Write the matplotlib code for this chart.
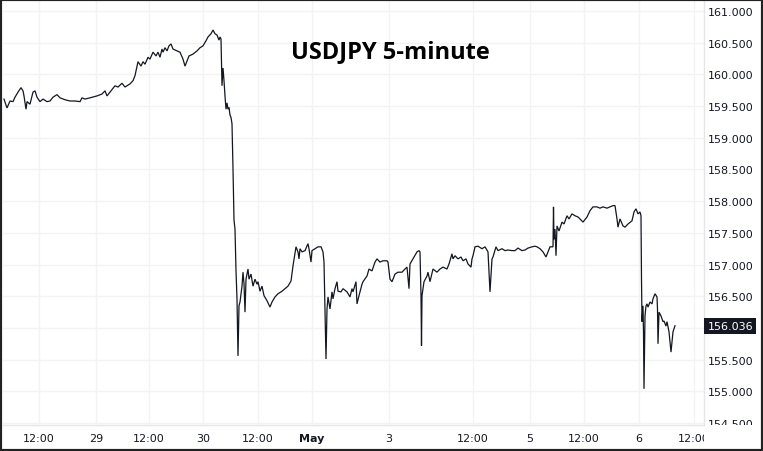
import matplotlib
matplotlib.use("Agg")
import matplotlib.pyplot as plt
from matplotlib.patches import Rectangle
from matplotlib.transforms import Bbox, TransformedBbox, blended_transform_factory

# USDJPY 5-minute, position on the compressed trading-time axis (bar index) and price
bar = [
    4, 7, 10, 13, 15, 18, 21, 23, 24, 26,
    27, 30, 33, 35, 37, 40, 43, 47, 50, 53,
    57, 60, 65, 70, 75, 80, 82, 85, 90, 97,
    102, 105, 107, 110, 115, 118, 122, 125, 128, 130,
    133, 135, 138, 141, 143, 145, 148, 150, 153, 156,
    158, 160, 162, 163, 165, 167, 169, 171, 173, 177,
    180, 183, 185, 187, 189, 193, 197, 200, 203, 206,
    208, 211, 213, 215, 217, 219, 220, 221, 222, 223,
    224, 225, 226, 227, 228, 229, 230, 231, 232, 233,
    234, 235, 236, 237, 238, 239, 240, 242, 243, 244,
    245, 246, 248, 249, 251, 253, 255, 257, 258, 260,
    262, 264, 267, 270, 272, 275, 278, 282, 285, 288,
    291, 293, 296, 298, 299, 300, 302, 305, 308, 309,
    311, 312, 315, 318, 321, 323, 324, 325, 326, 327,
    328, 330, 332, 333, 335, 337, 338, 341, 343, 347,
    350, 352, 353, 356, 357, 359, 362, 363, 367, 369,
    372, 375, 377, 380, 383, 387, 388, 390, 392, 395,
    398, 402, 405, 407, 409, 410, 413, 417, 419, 420,
    421, 421.5, 422, 424, 427, 428, 430, 433, 437, 440,
    443, 447, 449, 452, 453, 455, 458, 461, 463, 466,
    468, 471, 472, 473, 475, 478, 482, 485, 488, 490,
    492, 493, 496, 498, 502, 505, 508, 512, 515, 518,
    522, 525, 528, 532, 535, 537, 540, 543, 546, 548,
    550, 553, 553.5, 554, 555, 556, 557, 559, 562, 564,
    567, 569, 572, 575, 578, 580, 583, 587, 590, 593,
    597, 600, 603, 607, 610, 613, 615, 617, 618, 620,
    623, 625, 628, 632, 634, 636, 638, 640, 641, 641.5,
    642, 643, 643.5, 644, 645, 646, 647, 648, 650, 652,
    653, 655, 657, 657.5, 658, 659, 661, 663, 664, 666,
    667, 669, 671, 673, 674, 675,
]
price = [
    159.61, 159.47, 159.58, 159.57, 159.64, 159.72, 159.79, 159.74, 159.66, 159.45,
    159.57, 159.53, 159.72, 159.74, 159.64, 159.57, 159.61, 159.57, 159.58, 159.64,
    159.68, 159.63, 159.60, 159.58, 159.58, 159.57, 159.63, 159.61, 159.63, 159.66,
    159.69, 159.74, 159.66, 159.72, 159.82, 159.80, 159.86, 159.80, 159.83, 159.85,
    159.90, 159.98, 160.20, 160.13, 160.20, 160.16, 160.27, 160.24, 160.35, 160.29,
    160.35, 160.27, 160.40, 160.35, 160.42, 160.37, 160.45, 160.48, 160.40, 160.37,
    160.35, 160.24, 160.13, 160.21, 160.29, 160.32, 160.37, 160.42, 160.45, 160.53,
    160.59, 160.64, 160.70, 160.64, 160.62, 160.54, 160.59, 160.56, 159.82, 160.10,
    159.90, 159.66, 159.45, 159.55, 159.45, 159.48, 159.36, 159.32, 159.22, 158.51,
    157.70, 157.56, 156.90, 156.46, 155.56, 156.35, 156.41, 156.66, 156.88, 156.70,
    156.25, 156.77, 156.93, 156.77, 156.85, 156.66, 156.77, 156.69, 156.73, 156.58,
    156.66, 156.51, 156.43, 156.33, 156.41, 156.49, 156.54, 156.58, 156.62, 156.66,
    156.74, 156.98, 157.28, 157.20, 157.09, 157.25, 157.20, 157.22, 157.33, 157.25,
    157.04, 157.22, 157.25, 157.28, 157.28, 157.20, 157.04, 156.25, 155.51, 156.30,
    156.49, 156.30, 156.57, 156.46, 156.62, 156.73, 156.58, 156.57, 156.62, 156.57,
    156.49, 156.62, 156.57, 156.73, 156.38, 156.51, 156.69, 156.73, 156.82, 156.93,
    156.90, 157.04, 157.09, 157.04, 157.06, 157.06, 157.04, 156.77, 156.73, 156.85,
    156.88, 156.88, 156.93, 156.96, 156.62, 157.01, 157.09, 157.20, 157.22, 157.20,
    156.51, 155.72, 156.51, 156.73, 156.82, 156.88, 156.73, 156.93, 156.88, 156.93,
    156.96, 156.93, 157.01, 157.17, 157.09, 157.14, 157.09, 157.12, 157.06, 157.09,
    157.01, 156.96, 157.09, 157.14, 157.28, 157.29, 157.25, 157.28, 157.20, 156.57,
    157.09, 157.12, 157.28, 157.22, 157.25, 157.22, 157.23, 157.22, 157.22, 157.26,
    157.22, 157.23, 157.26, 157.28, 157.29, 157.28, 157.25, 157.20, 157.12, 157.20,
    157.28, 157.28, 157.91, 157.40, 157.56, 157.14, 157.61, 157.53, 157.67, 157.64,
    157.77, 157.72, 157.80, 157.77, 157.75, 157.72, 157.67, 157.75, 157.85, 157.91,
    157.91, 157.89, 157.91, 157.89, 157.91, 157.93, 157.93, 157.72, 157.59, 157.72,
    157.61, 157.59, 157.64, 157.69, 157.83, 157.88, 157.80, 157.83, 157.77, 156.77,
    156.10, 156.35, 155.94, 155.04, 156.19, 156.35, 156.38, 156.33, 156.41, 156.38,
    156.46, 156.54, 156.49, 156.30, 155.75, 156.25, 156.19, 156.10, 156.11, 156.03,
    156.10, 155.94, 155.62, 155.94, 155.99, 156.036,
]

time_ticks = [39, 96, 149, 203, 258, 312, 389, 473, 530, 584, 639, 694]
time_labels = ["12:00", "29", "12:00", "30", "12:00", "May", "3", "12:00", "5", "12:00", "6", "12:00"]
price_ticks = [154.5, 155.0, 155.5, 156.0, 156.5, 157.0, 157.5, 158.0, 158.5, 159.0, 159.5, 160.0, 160.5, 161.0]
price_labels = ["154.500", "155.000", "155.500", "", "156.500", "157.000", "157.500",
                "158.000", "158.500", "159.000", "159.500", "160.000", "160.500", "161.000"]
last_price = 156.036

W, H = 763, 452
fig = plt.figure(figsize=(W / 100, H / 100), dpi=100)
ax = fig.add_axes([3 / W, 26 / H, 701 / W, 424 / H])

ink = "#131722"
grid = "#f3f3f3"

ax.plot(bar, price, color=ink, lw=0.9, solid_joinstyle="miter")
ax.set_xlim(3, 704)
ax.set_ylim(154.47, 161.157)

ax.set_xticks(time_ticks)
ax.set_xticklabels(time_labels)
ax.set_yticks(price_ticks)
ax.set_yticklabels(price_labels)
ax.yaxis.tick_right()
ax.tick_params(axis="x", length=0, pad=6, labelsize=8, labelcolor=ink)
ax.tick_params(axis="y", length=0, pad=2.5, labelsize=8, labelcolor=ink)
ax.grid(True, color=grid, lw=1)
ax.set_axisbelow(True)

for side in ["top", "left"]:
    ax.spines[side].set_visible(False)
for side in ["right", "bottom"]:
    ax.spines[side].set_color("#e6e6e6")
    ax.spines[side].set_linewidth(1)

# labels that run under the other scale get cut off, like in the original
ybox = TransformedBbox(Bbox([[0, 26 / H], [1, 1]]), fig.transFigure)
for lab in ax.get_yticklabels():
    lab.set_clip_box(ybox)
    lab.set_clip_on(True)
xbox = TransformedBbox(Bbox([[0, 0], [704 / W, 1]]), fig.transFigure)
for lab in ax.get_xticklabels():
    lab.set_clip_box(xbox)
    lab.set_clip_on(True)
    if lab.get_text() == "May":
        lab.set_fontweight("bold")

# last price marker on the scale
trans = blended_transform_factory(ax.transAxes, ax.transData)
ax.annotate(f"{last_price:.3f}", xy=(1, last_price), xycoords=trans,
            xytext=(2.5, 0), textcoords="offset points", ha="left", va="center",
            fontsize=8, color="white", annotation_clip=False,
            bbox=dict(boxstyle="square,pad=0.28", fc=ink, ec="none"))

ax.text(0.552, 0.881, "USDJPY 5-minute", transform=ax.transAxes, ha="center", va="center",
        fontsize=17, fontweight="bold", family=["Open Sans", "DejaVu Sans"], color="black")

fig.patches.append(Rectangle((0, 0), 1, 1, transform=fig.transFigure, fill=False,
                             ec="#222222", lw=3))

fig.savefig("out.png", dpi=100)
